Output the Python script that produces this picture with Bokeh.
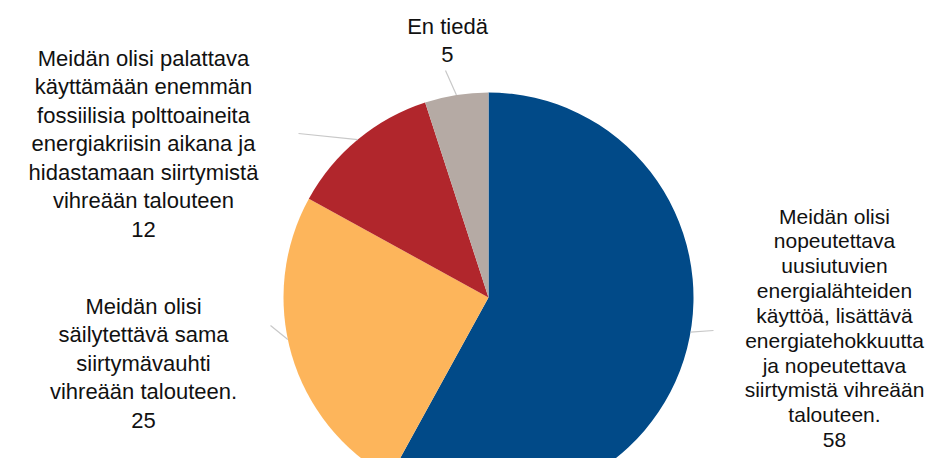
import math
from bokeh.plotting import figure
from bokeh.models import Range1d
from bokeh.core.properties import value
from bokeh.embed import file_html
from bokeh.resources import INLINE

# ---- data ----
categories = [
    "Meidän olisi\nnopeutettava\nuusiutuvien\nenergialähteiden\nkäyttöä, lisättävä\nenergiatehokkuutta\nja nopeutettava\nsiirtymistä vihreään\ntalouteen.",
    "Meidän olisi\nsäilytettävä sama\nsiirtymävauhti\nvihreään talouteen.",
    "Meidän olisi palattava\nkäyttämään enemmän\nfossiilisia polttoaineita\nenergiakriisin aikana ja\nhidastamaan siirtymistä\nvihreään talouteen",
    "En tiedä",
]
values = [58, 25, 12, 5]
colors = ["#014a88", "#fdb55b", "#b1262c", "#b5aaa4"]

# ---- layout (data units == pixels, y measured up from the bottom of the plot) ----
W, H = 928, 458
cx, cy, R = 488, H - 297, 205
# label block anchors (centre x, top y) in picture pixels from top
label_pos = [(834, 204), (143, 293), (143, 45), (447, 13)]
label_size = ["21px", "22px", "22px", "22px"]
label_lh = [1.08, 1.14, 1.14, 1.14]
# leader lines: end points (picture pixels from top) and nudge of the start angle (degrees)
leader_end = [(713, 330), (270, 325), (298, 133), (445, 70)]
leader_nudge = [4.7, -4.4, 0.0, 0.0]

p = figure(width=W, height=H, output_backend="svg", toolbar_location=None,
           x_range=Range1d(0, W), y_range=Range1d(0, H),
           min_border=0)
p.axis.visible = False
p.grid.visible = False
p.outline_line_color = None
p.background_fill_color = "white"
p.border_fill_color = "white"

total = sum(values)
cum = 0
starts, ends, mids = [], [], []
for v in values:
    a0 = math.pi / 2 - 2 * math.pi * cum / total
    cum += v
    a1 = math.pi / 2 - 2 * math.pi * cum / total
    starts.append(a0)
    ends.append(a1)
    mids.append((a0 + a1) / 2)

p.wedge(x=[cx] * len(values), y=[cy] * len(values), radius=R,
        start_angle=starts, end_angle=ends, direction="clock",
        fill_color=colors, line_color=None)

# leader lines
for m, nd, (ex, ey) in zip(mids, leader_nudge, leader_end):
    a = m + math.radians(nd)
    sx = cx + R * math.cos(a)
    sy = cy + R * math.sin(a)
    p.line([sx, ex], [sy, H - ey], line_color="#c8c8c8", line_width=1.2)

texts = [f"{c}\n{v}" for c, v in zip(categories, values)]
for t, (lx, ly), fs, lh in zip(texts, label_pos, label_size, label_lh):
    p.text(x=[lx], y=[H - ly], text=[t],
           text_align="center", text_baseline="top",
           text_font=value("Liberation Sans"), text_font_size=fs,
           text_line_height=lh, text_color="#111111")

open("out.html", "w").write(file_html(p, INLINE))
